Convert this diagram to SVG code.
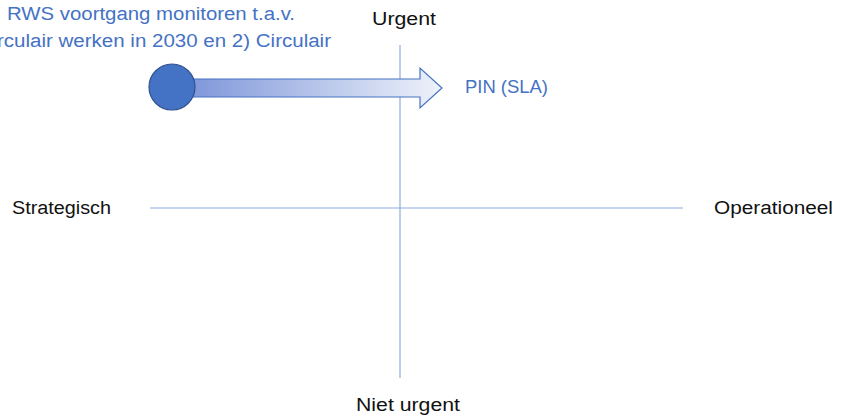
<svg xmlns="http://www.w3.org/2000/svg" width="846" height="419" viewBox="0 0 846 419">
<style>
.lbl{font-family:"Liberation Sans",Arial,sans-serif;font-size:18px;fill:#111}
.blue{font-family:"Liberation Sans",Arial,sans-serif;font-size:18px;fill:#4472C4}
.axis{stroke:#8FAADC;stroke-width:1.2;fill:none}
</style>
<defs>
<linearGradient id="g" x1="0" y1="0" x2="1" y2="0">
<stop offset="0" stop-color="#7F97DA"/>
<stop offset="1" stop-color="#EEF2FA"/>
</linearGradient>
</defs>
<rect width="846" height="419" fill="#fff"/>
<g id="connectors">
<line class="axis" x1="400" y1="45" x2="400" y2="378"/>
<line class="axis" x1="150" y1="208" x2="683" y2="208"/>
</g>
<g id="arrow">
<path d="M190,79 H420 V68 L442,88 L420,108 V97 H190 Z" fill="url(#g)" stroke="#4472C4" stroke-width="1.2"/>
<circle cx="172" cy="87" r="23" fill="#4472C4" stroke="#2F528F" stroke-width="1.2"/>
</g>
<g id="note">
<text class="blue" x="7" y="20" textLength="288" lengthAdjust="spacingAndGlyphs">RWS voortgang monitoren t.a.v.</text>
<text class="blue" x="-3" y="47" textLength="334" lengthAdjust="spacingAndGlyphs">rculair werken in 2030 en 2) Circulair</text>
</g>
<g id="pin"><text class="blue" x="465" y="93" textLength="83" lengthAdjust="spacingAndGlyphs">PIN (SLA)</text></g>
<g id="urgent"><text class="lbl" x="372" y="25" textLength="64" lengthAdjust="spacingAndGlyphs">Urgent</text></g>
<g id="nieturgent"><text class="lbl" x="356" y="411" textLength="104" lengthAdjust="spacingAndGlyphs">Niet urgent</text></g>
<g id="strategisch"><text class="lbl" x="12" y="214" textLength="99" lengthAdjust="spacingAndGlyphs">Strategisch</text></g>
<g id="operationeel"><text class="lbl" x="714" y="214" textLength="119" lengthAdjust="spacingAndGlyphs">Operationeel</text></g>
</svg>
